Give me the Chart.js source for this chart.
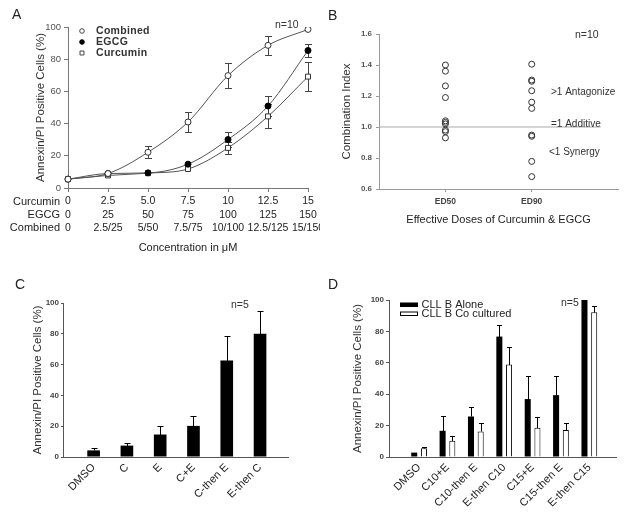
<!DOCTYPE html>
<html><head><meta charset="utf-8">
<script src="https://cdn.jsdelivr.net/npm/chart.js@4"></script>
<style>
html,body{margin:0;padding:0;background:#fff;}
#wrap{position:relative;width:629px;height:516px;overflow:hidden;background:#fff;}
canvas{position:absolute;}
</style></head><body>
<div id="wrap">
<canvas id="cA" width="320" height="260" style="left:0;top:0"></canvas>
<canvas id="cB" width="309" height="260" style="left:320px;top:0"></canvas>
<canvas id="cC" width="320" height="256" style="left:0;top:260px"></canvas>
<canvas id="cD" width="309" height="256" style="left:320px;top:260px"></canvas>
</div>
<script>
// ---------- Panel A data ----------
const concCurcumin = ['0','2.5','5.0','7.5','10','12.5','15'];
const concEGCG = ['0','25','50','75','100','125','150'];
const concCombined = ['0','2.5/25','5/50','7.5/75','10/100','12.5/125','15/150'];
const combinedMean = [5.5, 9, 22.2, 41, 69.8, 88.6, 98.5];
const combinedErr = [0, 0, 3.8, 6.2, 7.8, 5.8, 0];
const egcgMean = [5.5, 9, 9.4, 14.8, 30.1, 50.9, 85.4];
const egcgErr = [0, 0, 0, 0, 4.6, 6, 4.3];
const curcuminMean = [5.5, 7.8, 9.2, 11.8, 24.9, 44.5, 69.2];
const curcuminErr = [0, 0, 0, 0, 3.8, 7.5, 9];

// ---------- Panel B data ----------
const doseLabels = ['ED50', 'ED90'];
const ciED50 = [1.40, 1.36, 1.265, 1.19, 1.04, 1.03, 1.02, 0.98, 0.97, 0.93];
const ciED90 = [1.405, 1.303, 1.295, 1.234, 1.16, 1.12, 0.948, 0.94, 0.778, 0.68];
const additiveLine = 1.0;

// ---------- Panel C data ----------
const cCategories = ['DMSO', 'C', 'E', 'C+E', 'C-then E', 'E-then C'];
const cMean = [4.3, 7.4, 14.6, 20.2, 62.6, 80];
const cErr = [1.6, 1.9, 5.8, 6.3, 15.7, 14.6];

// ---------- Panel D data ----------
const dCategories = ['DMSO', 'C10+E', 'C10-then E', 'E-then C10', 'C15+E', 'C15-then E', 'E-then C15'];
const dAlone = [2.8, 16.7, 25.8, 76.7, 36.9, 39.4, 100];
const dAloneErr = [0, 9.3, 6.2, 7.6, 14.4, 12.1, 0];
const dCo = [5.5, 10.4, 16.3, 58.9, 18.6, 17.2, 92.2];
const dCoErr = [1.1, 3.2, 5.1, 11, 6.6, 4.6, 4.2];

const FONT = "'Liberation Sans', Arial, Helvetica, sans-serif";
Chart.defaults.font.family = FONT;
Chart.defaults.color = '#222';

// error bar plugin
const errorBars = {
  id: 'errorBars',
  beforeDatasetsDraw(chart, args, opts) {
    const ctx = chart.ctx;
    const cap = opts.cap || 3;
    chart.data.datasets.forEach((ds, di) => {
      if (!ds.errUp) return;
      const meta = chart.getDatasetMeta(di);
      const ys = chart.scales[meta.yAxisID];
      ctx.save();
      ctx.strokeStyle = opts.color || '#000';
      ctx.lineWidth = 1;
      meta.data.forEach((el, i) => {
        const raw = ds.data[i];
        const v = (raw && typeof raw === 'object') ? raw.y : raw;
        const up = ds.errUp[i] || 0;
        const dn = ds.errDown ? (ds.errDown[i] || 0) : 0;
        if (!up && !dn) return;
        const x = Math.round(el.x) + 0.5;
        const yT = Math.round(ys.getPixelForValue(v + up)) + 0.5;
        const yB = Math.round(ys.getPixelForValue(v - dn)) + 0.5;
        ctx.beginPath();
        ctx.moveTo(x, yT); ctx.lineTo(x, yB);
        ctx.moveTo(x - cap, yT); ctx.lineTo(x + cap, yT);
        if (dn) { ctx.moveTo(x - cap, yB); ctx.lineTo(x + cap, yB); }
        ctx.stroke();
      });
      ctx.restore();
    });
  }
};

// annotation / custom legend plugin
const annot = {
  id: 'annot',
  afterDraw(chart, args, opts) {
    const ctx = chart.ctx;
    (opts.items || []).forEach(it => {
      ctx.save();
      if (it.marker) {
        const m = it.marker;
        ctx.lineWidth = 1;
        ctx.strokeStyle = m.stroke || '#000';
        ctx.fillStyle = m.fill || '#fff';
        if (m.box) {
          ctx.fillRect(m.x, m.y, m.w, m.h);
          if (m.stroke) ctx.strokeRect(m.x + 0.5, m.y + 0.5, m.w - 1, m.h - 1);
        } else {
          Chart.helpers.drawPoint(ctx, {pointStyle: m.style, radius: m.r, borderWidth: 1, rotation: 0}, m.x, m.y);
        }
      }
      if (it.text) {
        ctx.font = (it.weight || 'normal') + ' ' + it.size + 'px ' + FONT;
        ctx.fillStyle = it.color || '#222';
        ctx.textAlign = it.align || 'left';
        ctx.textBaseline = 'middle';
        if (it.spacing) ctx.letterSpacing = it.spacing;
        ctx.fillText(it.text, it.x, it.y);
      }
      ctx.restore();
    });
  }
};

const baseOpts = {responsive: false, animation: false, events: []};

// ================= Panel A =================
new Chart(document.getElementById('cA'), {
  type: 'line',
  data: {
    labels: concCurcumin.map((c, i) => [c, concEGCG[i], concCombined[i]]),
    datasets: [
      {label: 'Combined', data: combinedMean, errUp: combinedErr, errDown: combinedErr,
       pointStyle: 'circle', pointRadius: 3, pointBackgroundColor: '#fff', pointBorderColor: '#333', pointBorderWidth: 1,
       borderColor: '#555', borderWidth: 1, cubicInterpolationMode: 'monotone', fill: false},
      {label: 'EGCG', data: egcgMean, errUp: egcgErr, errDown: egcgErr,
       pointStyle: 'circle', pointRadius: 3, pointBackgroundColor: '#000', pointBorderColor: '#000', pointBorderWidth: 1,
       borderColor: '#555', borderWidth: 1, cubicInterpolationMode: 'monotone', fill: false},
      {label: 'Curcumin', data: curcuminMean, errUp: curcuminErr, errDown: curcuminErr,
       pointStyle: 'rect', pointRadius: 3.5, pointBackgroundColor: '#fff', pointBorderColor: '#333', pointBorderWidth: 1,
       borderColor: '#555', borderWidth: 1, cubicInterpolationMode: 'monotone', fill: false}
    ]
  },
  options: Object.assign({}, baseOpts, {
    layout: {padding: {left: 0, top: 27, right: 12, bottom: 0}},
    plugins: {
      legend: {display: false}, tooltip: {enabled: false},
      errorBars: {cap: 3.5, color: '#444'},
      annot: {items: [
        {text: 'A', x: 12, y: 15, size: 14, color: '#222'},
        {text: 'n=10', x: 275, y: 25, size: 10.5, color: '#333'},
        {text: 'Curcumin', x: 60, y: 201.6, size: 11, align: 'right'},
        {text: 'EGCG', x: 60, y: 214.7, size: 11, align: 'right'},
        {text: 'Combined', x: 60, y: 227.8, size: 11, align: 'right'},
        {marker: {style: 'circle', r: 2.3, fill: '#fff', stroke: '#444', x: 82, y: 31}, text: 'Combined', x: 96, y: 31, size: 10.5, weight: 'bold', color: '#333', spacing: '0.3px'},
        {marker: {style: 'circle', r: 2.3, fill: '#000', stroke: '#000', x: 82, y: 42}, text: 'EGCG', x: 96, y: 42, size: 10.5, weight: 'bold', color: '#333', spacing: '0.3px'},
        {marker: {style: 'rect', r: 2.8, fill: '#fff', stroke: '#444', x: 82, y: 53}, text: 'Curcumin', x: 96, y: 53, size: 10.5, weight: 'bold', color: '#333', spacing: '0.3px'}
      ]}
    },
    scales: {
      x: {
        type: 'category', offset: false,
        grid: {display: true, drawOnChartArea: false, drawTicks: true, tickLength: 4, color: '#777', offset: false},
        border: {display: true, color: '#777', width: 1},
        ticks: {font: {size: 10.5, lineHeight: 1.25}, color: '#222', padding: 3, maxRotation: 0, minRotation: 0, autoSkip: false},
        title: {display: true, text: 'Concentration in μM', font: {size: 11}, color: '#222', padding: {top: 0, bottom: 5}},
        afterFit(s) { s.height = 72; s.paddingLeft = 0; s.paddingRight = 0; }
      },
      y: {
        min: 0, max: 100,
        ticks: {stepSize: 20, font: {size: 9.5}, color: '#555', padding: 3},
        grid: {display: true, drawOnChartArea: false, tickLength: 4, color: '#777'},
        border: {display: true, color: '#777', width: 1},
        title: {display: true, text: 'Annexin/PI Positive Cells (%)', font: {size: 11.5}, color: '#333', padding: {top: 34, bottom: 0}},
        afterFit(s) { s.width = 68; }
      }
    }
  }),
  plugins: [errorBars, annot]
});

// ================= Panel B =================
new Chart(document.getElementById('cB'), {
  type: 'scatter',
  data: {
    datasets: [
      {label: 'ED50', data: ciED50.map(v => ({x: 1, y: v})),
       pointStyle: 'circle', pointRadius: 3, pointBackgroundColor: 'rgba(255,255,255,0)', pointBorderColor: '#333', pointBorderWidth: 1},
      {label: 'ED90', data: ciED90.map(v => ({x: 2, y: v})),
       pointStyle: 'circle', pointRadius: 3, pointBackgroundColor: 'rgba(255,255,255,0)', pointBorderColor: '#333', pointBorderWidth: 1},
      {type: 'line', label: 'Additive', data: [{x: 0.23, y: additiveLine}, {x: 2.8, y: additiveLine}],
       borderColor: '#aaa', borderWidth: 1, pointRadius: 0, fill: false, order: 5}
    ]
  },
  options: Object.assign({}, baseOpts, {
    layout: {padding: {left: 0, top: 34, right: 11, bottom: 0}},
    plugins: {
      legend: {display: false}, tooltip: {enabled: false},
      annot: {items: [
        {text: 'B', x: 8, y: 16, size: 14, color: '#222'},
        {text: 'n=10', x: 255, y: 35.5, size: 10.5, color: '#333'},
        {text: '>1 Antagonize', x: 231, y: 92.7, size: 10, color: '#333'},
        {text: '=1 Additive', x: 231, y: 124, size: 10, color: '#333'},
        {text: '<1 Synergy', x: 229, y: 152, size: 10, color: '#333'}
      ]}
    },
    scales: {
      x: {
        type: 'linear', min: 0.23, max: 3.0,
        afterBuildTicks(s) { s.ticks = doseLabels.map((_, i) => ({value: i + 1})); },
        ticks: {callback: v => doseLabels[v - 1] || '', font: {size: 8.5, weight: 'bold'}, color: '#444', padding: 5, maxRotation: 0, autoSkip: false},
        grid: {display: true, drawOnChartArea: false, tickLength: 3, color: '#999'},
        border: {display: true, color: '#999', width: 1},
        title: {display: true, text: 'Effective Doses of Curcumin & EGCG', font: {size: 11}, color: '#222', padding: {top: 0, bottom: 33}},
        afterFit(s) { s.height = 71; s.paddingLeft = 0; s.paddingRight = 0; }
      },
      y: {
        min: 0.6, max: 1.6,
        ticks: {stepSize: 0.2, callback: v => Number(v).toFixed(1), font: {size: 8, weight: 'bold'}, color: '#555', padding: 4},
        grid: {display: true, drawOnChartArea: false, tickLength: 3, color: '#999'},
        border: {display: true, color: '#999', width: 1},
        title: {display: true, text: 'Combination Index', font: {size: 11.5}, color: '#333', padding: {top: 20, bottom: 0}},
        afterFit(s) { s.width = 59; }
      }
    }
  }),
  plugins: [annot]
});

// ================= Panel C =================
new Chart(document.getElementById('cC'), {
  type: 'bar',
  data: {
    datasets: [
      {label: 'Annexin/PI', data: cMean.map((v, i) => ({x: i, y: v})), errUp: cErr,
       backgroundColor: '#000', borderColor: '#000', borderWidth: 0, barPercentage: 0.38, categoryPercentage: 1}
    ]
  },
  options: Object.assign({}, baseOpts, {
    layout: {padding: {left: 0, top: 43, right: 32, bottom: 0}},
    plugins: {
      legend: {display: false}, tooltip: {enabled: false},
      errorBars: {cap: 3, color: '#000'},
      annot: {items: [
        {text: 'C', x: 15, y: 25, size: 14, color: '#222'},
        {text: 'n=5', x: 231, y: 45, size: 10.5, color: '#333'}
      ]}
    },
    scales: {
      x: {
        type: 'linear', min: -0.92, max: 5.84, offset: false,
        afterBuildTicks(s) { s.ticks = cCategories.map((_, i) => ({value: i})); },
        ticks: {callback: v => cCategories[v], font: {size: 11}, color: '#222', padding: 4, minRotation: 45, maxRotation: 45, autoSkip: false},
        grid: {display: false, drawTicks: false, offset: false},
        border: {display: true, color: '#555', width: 1},
        afterFit(s) { s.height = 59; s.paddingLeft = 0; s.paddingRight = 0; }
      },
      y: {
        min: 0, max: 100,
        ticks: {stepSize: 20, font: {size: 8, weight: 'bold'}, color: '#444', padding: 2},
        grid: {display: true, drawOnChartArea: false, tickLength: 2, color: '#555'},
        border: {display: true, color: '#555', width: 1},
        title: {display: true, text: 'Annexin/PI Positive Cells (%)', font: {size: 11.5}, color: '#333', padding: {top: 31, bottom: 0}},
        afterFit(s) { s.width = 63; }
      }
    }
  }),
  plugins: [errorBars, annot]
});

// ================= Panel D =================
new Chart(document.getElementById('cD'), {
  type: 'bar',
  data: {
    datasets: [
      {label: 'CLL B Alone', data: dAlone.map((v, i) => ({x: i, y: v})), errUp: dAloneErr,
       backgroundColor: '#000', borderColor: '#000', borderWidth: 0, barPercentage: 0.62, categoryPercentage: 0.685},
      {label: 'CLL B Co cultured', data: dCo.map((v, i) => ({x: i, y: v})), errUp: dCoErr,
       backgroundColor: '#fff', borderColor: '#000', borderWidth: 1, barPercentage: 0.62, categoryPercentage: 0.685}
    ]
  },
  options: Object.assign({}, baseOpts, {
    layout: {padding: {left: 0, top: 40, right: 13, bottom: 0}},
    plugins: {
      legend: {display: false}, tooltip: {enabled: false},
      errorBars: {cap: 2.5, color: '#000'},
      annot: {items: [
        {text: 'D', x: 8, y: 25, size: 14, color: '#222'},
        {text: 'n=5', x: 241, y: 43, size: 10.5, color: '#333'},
        {marker: {box: true, x: 80, y: 42.5, w: 18, h: 4.5, fill: '#000'}, text: 'CLL B Alone', x: 101.5, y: 44.5, size: 11, color: '#222'},
        {marker: {box: true, x: 80, y: 51.5, w: 18, h: 4.5, fill: '#fff', stroke: '#000'}, text: 'CLL B Co cultured', x: 101.5, y: 53.7, size: 11, color: '#222'}
      ]}
    },
    scales: {
      x: {
        type: 'linear', min: -1.06, max: 6.94, offset: false,
        afterBuildTicks(s) { s.ticks = dCategories.map((_, i) => ({value: i})); },
        ticks: {callback: v => dCategories[v], font: {size: 11}, color: '#222', padding: 4, minRotation: 45, maxRotation: 45, autoSkip: false},
        grid: {display: false, drawTicks: false, offset: false},
        border: {display: true, color: '#555', width: 1},
        afterFit(s) { s.height = 59; s.paddingLeft = 0; s.paddingRight = 0; }
      },
      y: {
        min: 0, max: 100,
        ticks: {stepSize: 20, font: {size: 8, weight: 'bold'}, color: '#444', padding: 2},
        grid: {display: true, drawOnChartArea: false, tickLength: 3, color: '#555'},
        border: {display: true, color: '#555', width: 1},
        title: {display: true, text: 'Annexin/PI Positive Cells (%)', font: {size: 11.5}, color: '#333', padding: {top: 31, bottom: 0}},
        afterFit(s) { s.width = 69; }
      }
    }
  }),
  plugins: [errorBars, annot]
});
</script>
</body></html>
